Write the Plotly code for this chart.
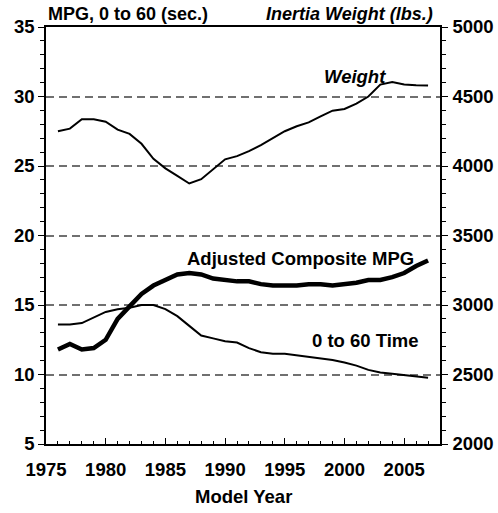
import plotly.graph_objects as go

years = list(range(1976, 2008))

# inertia weight (lbs.), right axis
weight = [4250, 4269, 4336, 4336, 4319, 4262, 4231, 4160, 4052, 3983,
          3929, 3874, 3905, 3976, 4048, 4071, 4107, 4150, 4202, 4250,
          4286, 4314, 4357, 4398, 4410, 4448, 4500, 4586, 4605, 4586,
          4581, 4579]

# adjusted composite mpg, left axis
mpg = [11.8, 12.2, 11.8, 11.9, 12.5, 14.0, 14.9, 15.8, 16.4, 16.8,
       17.2, 17.3, 17.2, 16.9, 16.8, 16.7, 16.7, 16.5, 16.4, 16.4,
       16.4, 16.5, 16.5, 16.4, 16.5, 16.6, 16.8, 16.8, 17.0, 17.3,
       17.8, 18.2]

# 0 to 60 time (sec.), left axis
accel = [13.6, 13.6, 13.7, 14.1, 14.5, 14.7, 14.8, 15.0, 15.0, 14.7,
         14.2, 13.5, 12.8, 12.6, 12.4, 12.3, 11.9, 11.6, 11.5, 11.5,
         11.4, 11.3, 11.2, 11.05, 10.86, 10.64, 10.33, 10.14, 10.05, 9.95,
         9.86, 9.76]

FONT = "Liberation Sans, Arial, sans-serif"
fs = 18.5

fig = go.Figure()

fig.add_trace(go.Scatter(x=years, y=accel, mode="lines",
                         line=dict(color="black", width=2)))
fig.add_trace(go.Scatter(x=years, y=mpg, mode="lines",
                         line=dict(color="black", width=4.5)))
fig.add_trace(go.Scatter(x=years, y=weight, mode="lines", yaxis="y2",
                         line=dict(color="black", width=2)))

tickfont = dict(family=FONT, size=fs, weight="bold")

fig.update_layout(
    width=498,
    height=513,
    margin=dict(l=46, r=58, t=27, b=69, autoexpand=False),
    plot_bgcolor="white",
    paper_bgcolor="white",
    showlegend=False,
    font=dict(family=FONT, size=fs, color="black"),
    xaxis=dict(
        range=[1975, 2008],
        tickvals=[1975, 1980, 1985, 1990, 1995, 2000, 2005],
        ticks="inside",
        ticklen=6,
        tickwidth=1,
        tickcolor="black",
        minor=dict(dtick=1, tick0=1975, ticks="inside", ticklen=3, tickcolor="black"),
        showline=True,
        linecolor="black",
        linewidth=1.5,
        mirror=True,
        showgrid=False,
        zeroline=False,
        automargin=False,
        ticklabelstandoff=8,
        tickfont=tickfont,
    ),
    yaxis=dict(
        range=[5, 35],
        dtick=5,
        tick0=5,
        ticks="outside",
        ticklen=6,
        tickcolor="black",
        minor=dict(dtick=1, ticks="outside", ticklen=4, tickcolor="black"),
        showline=True,
        linecolor="black",
        linewidth=1.5,
        showgrid=True,
        gridcolor="#707070",
        gridwidth=1.5,
        griddash="8px,5px",
        zeroline=False,
        automargin=False,
        tickfont=tickfont,
    ),
    yaxis2=dict(
        range=[2000, 5000],
        dtick=500,
        tick0=2000,
        overlaying="y",
        side="right",
        ticks="outside",
        ticklen=6,
        tickcolor="black",
        minor=dict(dtick=100, ticks="outside", ticklen=4, tickcolor="black"),
        showline=True,
        linecolor="black",
        linewidth=1.5,
        showgrid=False,
        zeroline=False,
        automargin=False,
        ticklabelstandoff=1,
        tickfont=tickfont,
    ),
)

bold = dict(family=FONT, size=fs, color="black", weight="bold")
ital = dict(family=FONT, size=fs, color="black", weight="bold", style="italic")
head = dict(family=FONT, size=18, color="black", weight="bold")
head_it = dict(family=FONT, size=18, color="black", weight="bold", style="italic")

fig.add_annotation(text="MPG, 0 to 60 (sec.)", xref="paper", yref="paper",
                   x=0.0, y=1.0, xanchor="left", yanchor="middle",
                   yshift=13, showarrow=False, font=head)
fig.add_annotation(text="Inertia Weight (lbs.)", xref="paper", yref="paper",
                   x=0.987, y=1.0, xanchor="right", yanchor="middle",
                   yshift=13, showarrow=False, font=head_it)
fig.add_annotation(text="Model Year", xref="paper", yref="paper",
                   x=0.5, y=-0.1270, xanchor="center", yanchor="middle",
                   showarrow=False, font=bold)
fig.add_annotation(text="Weight", x=2000.9, y=31.47, showarrow=False, font=ital)
fig.add_annotation(text="Adjusted Composite MPG", x=1996.3, y=18.31,
                   showarrow=False, font=bold)
fig.add_annotation(text="0 to 60 Time", x=2001.8, y=12.48,
                   showarrow=False, font=bold)

# drop the default 8px body margin so the figure sits at the page corner
fig.write_html("out.html", config={"displayModeBar": False},
               post_script="document.body.style.margin = '0';")
